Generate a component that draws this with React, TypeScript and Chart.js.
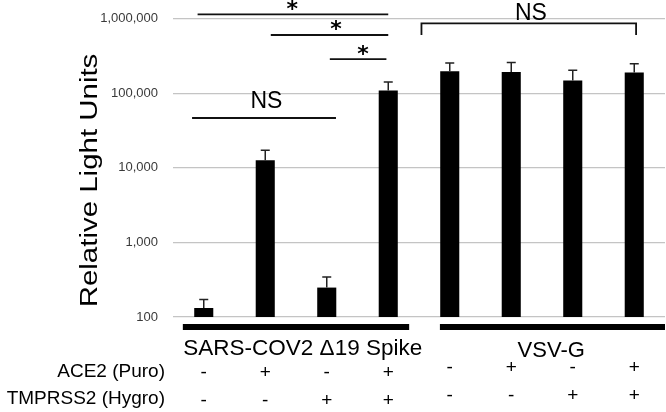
import React, { useEffect, useRef } from "react";
import { Chart, registerables } from "chart.js";
Chart.register(...registerables);

// ---- data ----
const categories = ["S-1", "S-2", "S-3", "S-4", "V-1", "V-2", "V-3", "V-4"];
const meanRLU = [132, 12600, 248, 109000, 197000, 192000, 147500, 190000];
const errorRLU = [39, 4600, 96, 32000, 57000, 67000, 55500, 59000];
const yTicks = [100, 1000, 10000, 100000, 1000000];
const yMin = 100;
const yMax = 1670000;

const rowLabels = ["ACE2 (Puro)", "TMPRSS2 (Hygro)"];
const ace2Row = ["-", "+", "-", "+", "-", "+", "-", "+"];
const tmprssRow = ["-", "-", "+", "+", "-", "-", "+", "+"];

const groupLabels = ["SARS-COV2 \u039419 Spike", "VSV-G"];
const groupFrom = [-0.34, 3.84];
const groupTo = [3.34, 7.5];
const groupTextAt = [1.61, 5.65];

// significance lines (category index span, level in RLU)
const sigLabels = ["*", "*", "*", "NS"];
const sigFrom = [-0.1, 1.09, 2.05, -0.19];
const sigTo = [3.0, 3.0, 2.97, 2.15];
const sigLevel = [1142000, 603000, 287000, 46500];
const sigTextAt = [1.44, 2.15, 2.59, 1.02];
const sigTextLevel = [1090000, 588000, 272000, 62800];

// bracket over VSV-G
const bracketLabel = "NS";
const bracketFrom = 3.54;
const bracketTo = 7.03;
const bracketTop = 865000;
const bracketLeg = 603000;
const bracketTextAt = 5.32;
const bracketTextLevel = 972000;

const FONT = "'Liberation Sans', Arial, sans-serif";

const annotate = {
  id: "annotate",
  afterDatasetsDraw(chart: any) {
    const { ctx, chartArea } = chart;
    const xs = chart.scales.x;
    const ys = chart.scales.y;
    const p0 = xs.getPixelForValue(0);
    const step = xs.getPixelForValue(1) - p0;
    const px = (i: number) => p0 + i * step;
    const py = (v: number) => ys.getPixelForValue(v);
    ctx.save();

    // error bars
    ctx.strokeStyle = "#222";
    ctx.lineWidth = 1.5;
    meanRLU.forEach((m, i) => {
      const cx = px(i);
      const y0 = py(m);
      const y1 = py(m + errorRLU[i]);
      ctx.beginPath();
      ctx.moveTo(cx, y0);
      ctx.lineTo(cx, y1);
      ctx.moveTo(cx - 4.5, y1);
      ctx.lineTo(cx + 4.5, y1);
      ctx.stroke();
    });

    // significance lines
    ctx.strokeStyle = "#111";
    ctx.lineWidth = 1.8;
    ctx.fillStyle = "#000";
    ctx.textAlign = "center";
    ctx.textBaseline = "alphabetic";
    sigLabels.forEach((lab, k) => {
      const yy = py(sigLevel[k]);
      ctx.beginPath();
      ctx.moveTo(px(sigFrom[k]), yy);
      ctx.lineTo(px(sigTo[k]), yy);
      ctx.stroke();
      ctx.font = lab === "*" ? `bold 22px 'DejaVu Sans', sans-serif` : `23px ${FONT}`;
      ctx.fillText(lab, px(sigTextAt[k]), py(sigTextLevel[k]));
    });

    // bracket
    ctx.beginPath();
    ctx.moveTo(px(bracketFrom), py(bracketLeg));
    ctx.lineTo(px(bracketFrom), py(bracketTop));
    ctx.lineTo(px(bracketTo), py(bracketTop));
    ctx.lineTo(px(bracketTo), py(bracketLeg));
    ctx.stroke();
    ctx.font = `23px ${FONT}`;
    ctx.fillText(bracketLabel, px(bracketTextAt), py(bracketTextLevel));

    // group lines and labels under axis
    const b = chartArea.bottom;
    groupLabels.forEach((lab, g) => {
      ctx.fillStyle = "#000";
      const x0 = px(groupFrom[g]);
      const x1 = Math.min(px(groupTo[g]), chartArea.right);
      ctx.fillRect(x0, b + 7, x1 - x0, 6);
      ctx.font = g === 0 ? `22.5px ${FONT}` : `22px ${FONT}`;
      ctx.textAlign = "center";
      ctx.textBaseline = "alphabetic";
      ctx.fillText(lab, px(groupTextAt[g]), b + (g === 0 ? 38 : 40));
    });

    // row labels
    ctx.font = `19px ${FONT}`;
    ctx.textAlign = "right";
    ctx.textBaseline = "middle";
    ctx.fillText(rowLabels[0], 165, b + 55);
    ctx.fillText(rowLabels[1], 165, b + 82);

    // +/- signs
    ctx.textAlign = "center";
    ace2Row.forEach((s, i) => {
      const off = i < 4 ? 0 : -5;
      ctx.fillText(s, px(i), b + 56 + off);
    });
    tmprssRow.forEach((s, i) => {
      const off = i < 4 ? 0 : -5;
      ctx.fillText(s, px(i), b + 84 + off);
    });

    // y title (stretched along its length)
    ctx.save();
    ctx.translate(91, 180.5);
    ctx.rotate(-Math.PI / 2);
    ctx.scale(1.28, 1);
    ctx.font = `23px ${FONT}`;
    ctx.textAlign = "center";
    ctx.textBaseline = "middle";
    ctx.fillText("Relative Light Units", 0, 0);
    ctx.restore();

    ctx.restore();
  },
};

export default function App() {
  const ref = useRef<HTMLCanvasElement>(null);
  useEffect(() => {
    document.body.style.margin = "0";
    const chart = new Chart(ref.current as HTMLCanvasElement, {
      type: "bar",
      data: {
        labels: categories,
        datasets: [
          {
            data: meanRLU,
            backgroundColor: "#000",
            borderWidth: 0,
            barPercentage: 0.31,
            categoryPercentage: 1,
          },
        ],
      },
      options: {
        animation: false,
        responsive: true,
        maintainAspectRatio: false,
        layout: { padding: { top: 2, bottom: 95, left: 0, right: 1 } },
        plugins: { legend: { display: false }, tooltip: { enabled: false } },
        scales: {
          x: { display: false },
          y: {
            type: "logarithmic",
            min: yMin,
            max: yMax,
            afterBuildTicks: (s: any) => {
              s.ticks = yTicks.map((v) => ({ value: v }));
            },
            afterFit: (s: any) => {
              s.width = 173;
              s.paddingTop = 0;
              s.paddingBottom = 0;
            },
            border: { display: false },
            grid: { color: "#c4c4c4", lineWidth: 1.2, drawTicks: false },
            ticks: {
              padding: 15,
              color: "#3a3a3a",
              font: { size: 13, family: FONT },
              callback: (v: any) => Number(v).toLocaleString("en-US"),
            },
          },
        },
      },
      plugins: [annotate],
    });
    return () => chart.destroy();
  }, []);
  return (
    <div style={{ width: 666, height: 412, position: "relative" }}>
      <canvas ref={ref} />
    </div>
  );
}
